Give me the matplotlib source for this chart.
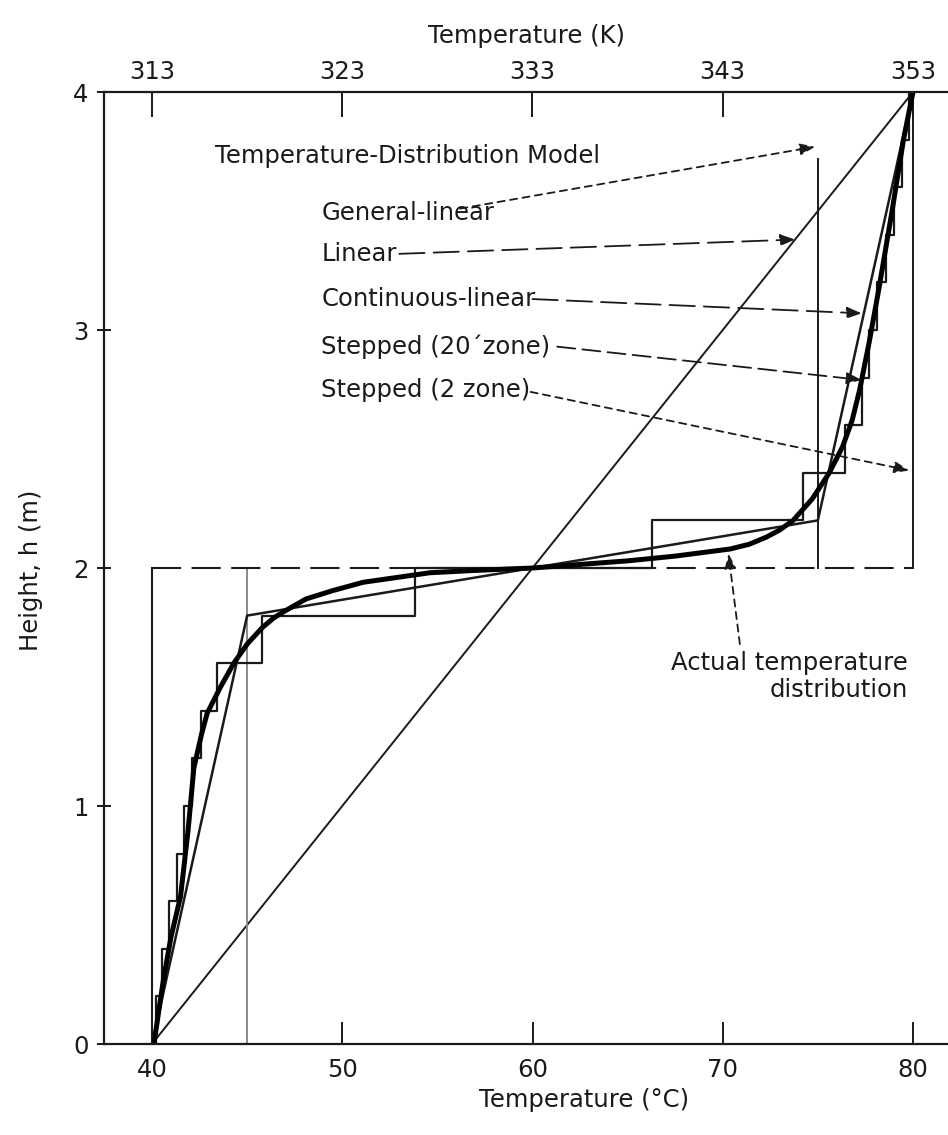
import numpy as np
import matplotlib
matplotlib.use("Agg")
import matplotlib.pyplot as plt

plt.rcParams['font.family'] = ['DejaVu Sans']

# ---------------- data ----------------
# Linear model
linear_T = [40.0, 80.0]
linear_h = [0.0, 4.0]

# Continuous-linear model (piecewise linear)
cont_T = [40.0, 45.0, 75.0, 80.0]
cont_h = [0.0, 1.8, 2.2, 4.0]

# Stepped (20 zone) model: zone boundaries and zone temperatures
step20_edges = [0.0, 0.2, 0.4, 0.6, 0.8, 1.0, 1.2, 1.4, 1.6, 1.8, 2.0,
                2.2, 2.4, 2.6, 2.8, 3.0, 3.2, 3.4, 3.6, 3.8, 4.0]
step20_T = [40.2, 40.5, 40.9, 41.3, 41.7, 42.1, 42.6, 43.4, 45.8, 53.8,
            66.3, 74.2, 76.4, 77.3, 77.7, 78.1, 78.6, 79.0, 79.4, 79.8]

# Stepped (2 zone) model
step2_T = [40.0, 80.0]
step2_edges = [0.0, 2.0, 4.0]

# General-linear model (visible constant-temperature segments)
gen_T = [45.0, 75.0]
gen_h_low = [0.0, 2.0]
gen_h_high = [2.0, 3.72]

# Actual temperature distribution
actual_T = [40.1, 40.6, 41.0, 41.5, 41.9, 42.2, 42.6, 42.9, 43.6, 44.3, 45.0,
            45.8, 46.4, 47.0, 48.1, 49.5, 51.1, 54.6, 57.0, 60.0, 65.0, 67.5,
            70.4, 71.4, 72.3, 73.0, 73.7, 74.7, 75.6, 76.3, 76.8, 77.2, 77.7,
            78.2, 78.9, 79.5, 80.0]
actual_h = [0.0, 0.27, 0.45, 0.62, 0.90, 1.16, 1.30, 1.39, 1.50, 1.60, 1.68,
            1.75, 1.79, 1.82, 1.87, 1.905, 1.94, 1.98, 1.99, 2.00, 2.03, 2.05,
            2.08, 2.10, 2.13, 2.16, 2.20, 2.29, 2.40, 2.51, 2.62, 2.75, 2.95,
            3.17, 3.50, 3.80, 4.00]

x_ticks_C = [40, 50, 60, 70, 80]
x_ticks_K = [313, 323, 333, 343, 353]
y_ticks = [0, 1, 2, 3, 4]

# ---------------- figure ----------------
W, H = 948, 1135
fig = plt.figure(figsize=(W / 100, H / 100), dpi=100)
ax_l, ax_r = 104 / W, 948 / W
ax_b, ax_t = 1 - 1044 / H, 1 - 92 / H
ax = fig.add_axes([ax_l, ax_b, ax_r - ax_l, ax_t - ax_b])

FS = 17.5
ink = '#1a1a1a'

# Linear
ax.plot(linear_T, linear_h, color=ink, lw=1.4)

# General-linear
ax.plot([gen_T[0], gen_T[0]], gen_h_low, color='#8a8a8a', lw=1.4)
ax.plot([gen_T[1], gen_T[1]], gen_h_high, color=ink, lw=1.4)

# Stepped (2 zone)
ax.plot([step2_T[0], step2_T[0]], step2_edges[:2], color=ink, lw=1.5)
ax.plot(step2_T, [step2_edges[1], step2_edges[1]], color=ink, lw=1.5,
        dashes=(14, 5))
ax.plot([step2_T[1], step2_T[1]], step2_edges[1:], color=ink, lw=1.4)

# Stepped (20 zone)
e = np.asarray(step20_edges)
t = np.asarray(step20_T)
sx = np.repeat(t, 2)
sy = np.column_stack([e[:-1], e[1:]]).ravel()
ax.plot(sx, sy, color=ink, lw=1.6)

# Continuous-linear
ax.plot(cont_T, cont_h, color=ink, lw=1.8)

# Actual
ax.plot(actual_T, actual_h, color='black', lw=3.6, solid_capstyle='round',
        solid_joinstyle='round')

# ---------------- annotations ----------------
tx = 43.3
ax.text(tx, 3.73, 'Temperature-Distribution Model', fontsize=FS, va='center',
        ha='left', color=ink)
lx = 48.9
labels = [
    ('General-linear', 3.49, (56.2, 3.51), (74.85, 3.77), (4, 3)),
    ('Linear', 3.32, (53.0, 3.32), (73.8, 3.38), (14, 5)),
    ('Continuous-linear', 3.13, (60.0, 3.13), (77.3, 3.07), (14, 5)),
    ('Stepped (20\u00b4zone)', 2.93, (61.3, 2.93), (77.3, 2.79), (10, 4)),
    ('Stepped (2 zone)', 2.75, (59.9, 2.74), (79.8, 2.41), (4, 3)),
]
for txt, yy, start, end, dsh in labels:
    ax.text(lx, yy, txt, fontsize=FS, va='center', ha='left', color=ink)
    ax.annotate('', xy=end, xytext=start,
                arrowprops=dict(arrowstyle='-|>,head_length=0.9,head_width=0.35',
                                color=ink, lw=1.3, linestyle=(0, dsh),
                                shrinkA=0, shrinkB=0))

ax.text(80.0 - 0.25, 1.545, 'Actual temperature\ndistribution', fontsize=FS,
        ha='right', va='center', color=ink, multialignment='right',
        linespacing=1.15)
ax.annotate('', xy=(70.3, 2.06), xytext=(70.9, 1.68),
            arrowprops=dict(arrowstyle='-|>,head_length=0.9,head_width=0.35',
                            color=ink, lw=1.3, linestyle=(0, (4, 3)),
                            shrinkA=0, shrinkB=0))

# ---------------- axes ----------------
x0 = 40 - 48 / 19.025
x1 = 80 + 35 / 19.025
ax.set_xlim(x0, x1)
ax.set_ylim(0, 4)
ax.spines['right'].set_visible(False)
for s in ['left', 'bottom', 'top']:
    ax.spines[s].set_linewidth(1.6)
    ax.spines[s].set_color(ink)

ax.set_xticks(x_ticks_C)
ax.set_yticks(y_ticks)
ax.tick_params(axis='x', direction='in', length=16, width=1.4, labelsize=FS,
               pad=10, colors=ink)
ax.tick_params(axis='y', direction='inout', length=10, width=1.4,
               labelsize=FS, pad=6, colors=ink)

ax.set_xlabel('Temperature (\u00b0C)', fontsize=FS, color=ink)
ax.xaxis.set_label_coords(0.569, -0.046)
ax.xaxis.label.set_va('top')
ax.set_ylabel('Height, h (m)', fontsize=FS, color=ink)
ax.yaxis.set_label_coords(-0.072, 0.498)

sec = ax.secondary_xaxis('top', functions=(lambda c: c + 273, lambda k: k - 273))
sec.set_xticks(x_ticks_K)
sec.tick_params(axis='x', direction='in', length=18, width=1.4, labelsize=FS,
                pad=6, colors=ink)
sec.spines['top'].set_visible(False)
sec.set_xlabel('Temperature (K)', fontsize=FS, color=ink, labelpad=12)

fig.savefig('out.png', dpi=100)
